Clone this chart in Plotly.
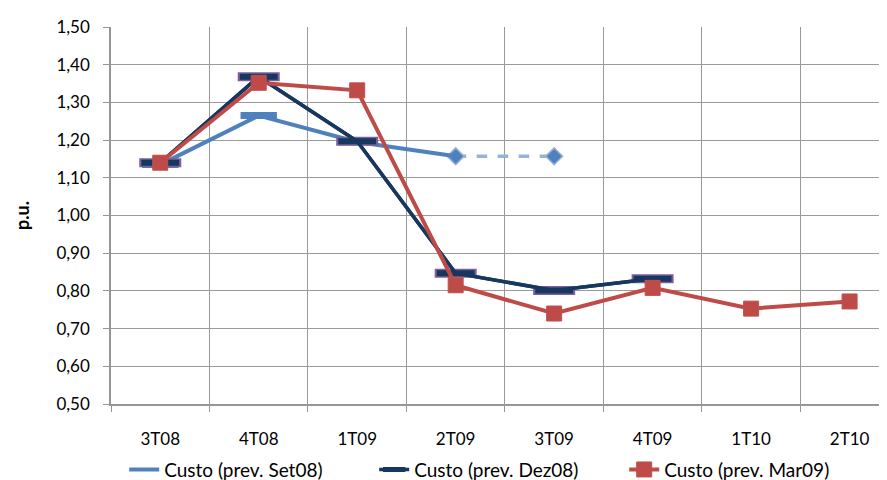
import plotly.graph_objects as go

categories = ["3T08", "4T08", "1T09", "2T09", "3T09", "4T09", "1T10", "2T10"]
set08 = [1.135, 1.265, 1.195, 1.157, None, None, None, None]
set08_proj = [None, None, None, 1.157, 1.157, None, None, None]
dez08 = [1.14, 1.368, 1.197, 0.847, 0.801, 0.832, None, None]
mar09 = [1.14, 1.352, 1.332, 0.815, 0.74, 0.808, 0.753, 0.772]
yticks = [0.5, 0.6, 0.7, 0.8, 0.9, 1.0, 1.1, 1.2, 1.3, 1.4, 1.5]

x = list(range(len(categories)))
FONT = "Lato"

fig = go.Figure()

# Set08 projected (dashed)
fig.add_trace(go.Scatter(x=x, y=set08_proj, mode="lines+markers", showlegend=False,
                         line=dict(color="#95B3D7", width=3.5, dash="dash"),
                         marker=dict(symbol="diamond", size=13, color="#4F81BD",
                                     line=dict(color="#95B3D7", width=1.5))))
# Set08
fig.add_trace(go.Scatter(x=x, y=set08, mode="lines", name="Custo (prev. Set08)",
                         line=dict(color="#4F81BD", width=4)))
fig.add_trace(go.Scatter(x=x[:3], y=set08[:3], mode="markers", showlegend=False,
                         marker=dict(symbol="line-ew", size=26,
                                     line=dict(color="#4F81BD", width=7))))
# Dez08
fig.add_trace(go.Scatter(x=x, y=dez08, mode="lines", showlegend=False,
                         line=dict(color="#17375E", width=3.5)))
fig.add_trace(go.Scatter(x=x, y=dez08, mode="markers", showlegend=False,
                         marker=dict(symbol="line-ew", size=30,
                                     line=dict(color="#7E5E9E", width=9))))
fig.add_trace(go.Scatter(x=x, y=dez08, mode="lines+markers", name="Custo (prev. Dez08)",
                         line=dict(color="#17375E", width=3.5),
                         marker=dict(symbol="line-ew", size=27,
                                     line=dict(color="#17375E", width=6))))
# Mar09
fig.add_trace(go.Scatter(x=x, y=mar09, mode="lines+markers", name="Custo (prev. Mar09)",
                         line=dict(color="#BE4B48", width=4),
                         marker=dict(symbol="square", size=15, color="#BE4B48",
                                     line=dict(color="#C0504D", width=1))))

fig.update_layout(
    width=887, height=500,
    margin=dict(l=103, r=8, t=16, b=104),
    paper_bgcolor="white", plot_bgcolor="white",
    separators=",.",
    font=dict(family=FONT, size=17, color="#000000"),
    showlegend=True,
    legend=dict(orientation="h", x=0.017, xanchor="left", y=-0.174, yanchor="middle",
                font=dict(size=19), entrywidth=205, traceorder="normal",
                tracegroupgap=0),
)
fig.update_xaxes(
    range=[-0.5, 7.38], tickmode="array", tickvals=x, ticktext=categories,
    showgrid=False, ticks="", ticklen=0, showline=True, linecolor="#969696", linewidth=1.5,
    tickfont=dict(size=17), zeroline=False, ticklabelstandoff=19,
    minor=dict(tickmode="array", tickvals=[i + 0.5 for i in range(-1, 8)], showgrid=True,
               gridcolor="#9A9A9A", gridwidth=1.2, ticks="outside", ticklen=6,
               tickcolor="#969696"),
)
fig.update_yaxes(
    range=[0.5, 1.5], tickmode="array", tickvals=yticks, tickformat=".2f",
    showgrid=True, gridcolor="#9A9A9A", gridwidth=1.2, ticks="outside", ticklen=6,
    tickcolor="#969696", showline=True, linecolor="#969696", linewidth=1.5,
    zeroline=False, tickfont=dict(size=17), ticklabelstandoff=10,
    title=dict(text="<b>p.u.</b>", font=dict(size=18), standoff=22),
)

fig.write_html("out.html")
